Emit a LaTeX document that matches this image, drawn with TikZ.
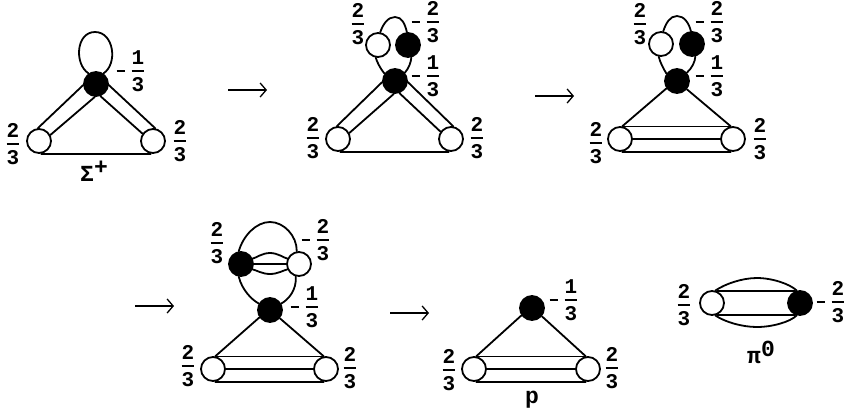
\documentclass[tikz,border=0pt]{standalone}
\usepackage{fontspec}
\setmainfont{Liberation Mono}[BoldFont={Liberation Mono Bold}]
\newcommand{\fr}[2]{\ensuremath{\displaystyle{\hbox{\bfseries\fontsize{21}{21}\selectfont #1}\above1.8pt\hbox{\bfseries\fontsize{21}{21}\selectfont #2}}}}
\newcommand{\mfr}[2]{\rule[1.6pt]{8pt}{2pt}\hspace{6pt}\fr{#1}{#2}}
\usetikzlibrary{arrows.meta}
\tikzset{
 wh/.style={circle,draw,fill=white,line width=1.8pt,minimum size=24pt,inner sep=0pt},
 bk/.style={circle,draw,fill=black,line width=1.8pt,minimum size=24pt,inner sep=0pt},
 ln/.style={line width=1.8pt,line cap=round},
 arr/.style={-{Straight Barb[length=6pt,width=14pt,line width=1.3pt]},line width=1.5pt},
 lb/.style={inner sep=0pt,outer sep=0pt},
 big/.style={inner sep=0pt,outer sep=0pt,font=\bfseries\fontsize{23}{23}\selectfont}
}
\begin{document}
\begin{tikzpicture}[x=1pt,y=1pt]
\useasboundingbox (0,0) rectangle (848,-415);
% --- diagram 1
\node[bk] (a) at (96,-84) {};
\node[wh] (b) at (39,-141) {};
\node[wh] (c) at (153,-141) {};
\coordinate (atop) at (95,-32);
\draw[ln] (a.125) .. controls (74,-64) and (76,-32) .. (atop) .. controls (114,-32) and (118,-64) .. (a.55);
\draw[ln] (a.185) -- (b.95);
\draw[ln] (a.265) -- (b.28);
\draw[ln] (a.-5) -- (c.80);
\draw[ln] (a.-70) -- (c.145);
\draw[ln] (b.-80) -- (c.-100);
\node[lb] (a1) at (131,-71) {\mfr{1}{3}};
\node[lb] (a2) at (13,-144) {\fr{2}{3}};
\node[lb] (a3) at (180,-141) {\fr{2}{3}};
\node[big] (a4) at (94,-171) {Σ\raisebox{7pt}{+}};
\coordinate (r1s) at (228,-90); \coordinate (r1e) at (267,-90);
\draw[arr] (r1s) -- (r1e);
% --- diagram 2
\node[bk] (d) at (395,-81) {};
\node[wh] (e) at (338,-139) {};
\node[wh] (f) at (451,-139) {};
\node[wh] (g) at (378,-45) {};
\node[bk] (h) at (408,-45) {};
\coordinate (dtop) at (395,-17);
\draw[ln] (g.80) .. controls (383,-24) and (388,-17) .. (dtop) .. controls (402,-17) and (405,-24) .. (h.95);
\draw[ln] (g.-100) .. controls (377,-62) and (380,-68) .. (d.145);
\draw[ln] (h.-75) .. controls (411,-62) and (409,-68) .. (d.40);
\draw[ln] (d.185) -- (e.95);
\draw[ln] (d.265) -- (e.28);
\draw[ln] (d.-5) -- (f.80);
\draw[ln] (d.-70) -- (f.145);
\draw[ln] (e.-80) -- (f.-100);
\node[lb] (d1) at (358,-24) {\fr{2}{3}};
\node[lb] (d2) at (426,-22) {\mfr{2}{3}};
\node[lb] (d3) at (426,-76) {\mfr{1}{3}};
\node[lb] (d4) at (313,-138) {\fr{2}{3}};
\node[lb] (d5) at (477,-138) {\fr{2}{3}};
\coordinate (r2s) at (535,-96); \coordinate (r2e) at (574,-96);
\draw[arr] (r2s) -- (r2e);
% --- diagram 3
\node[bk] (i) at (677,-81) {};
\node[wh] (j) at (620,-139) {};
\node[wh] (k) at (733,-139) {};
\node[wh] (l) at (661,-44) {};
\node[bk] (m) at (692,-44) {};
\coordinate (itop) at (677,-16);
\draw[ln] (l.80) .. controls (666,-23) and (670,-16) .. (itop) .. controls (684,-16) and (689,-23) .. (m.95);
\draw[ln] (l.-100) .. controls (660,-62) and (663,-68) .. (i.145);
\draw[ln] (m.-75) .. controls (695,-62) and (692,-68) .. (i.40);
\draw[ln] (i.215) -- (j.80);
\draw[ln] (i.-40) -- (k.100);
\draw[ln] (j.75) -- (k.105);
\draw[ln] (j.0) -- (k.180);
\draw[ln] (j.-80) -- (k.-100);
\node[lb] (i1) at (640,-24) {\fr{2}{3}};
\node[lb] (i2) at (710,-22) {\mfr{2}{3}};
\node[lb] (i3) at (710,-76) {\mfr{1}{3}};
\node[lb] (i4) at (596,-143) {\fr{2}{3}};
\node[lb] (i5) at (760,-139) {\fr{2}{3}};
% --- diagram 4
\node[bk] (n) at (270,-310) {};
\node[wh] (o) at (213,-369) {};
\node[wh] (q) at (326,-369) {};
\node[bk] (s) at (241,-264) {};
\node[wh] (t) at (299,-264) {};
\coordinate (ntop) at (270,-222);
\coordinate (nu) at (270,-253);
\coordinate (nv) at (270,-274);
\draw[ln] (s.100) .. controls (243,-236) and (256,-222) .. (ntop) .. controls (284,-222) and (297,-236) .. (t.100);
\draw[ln] (s.-100) .. controls (242,-290) and (252,-300) .. (n.150);
\draw[ln] (t.-105) .. controls (297,-290) and (288,-300) .. (n.30);
\draw[ln] (s.25) .. controls (256,-258) and (262,-253) .. (nu) .. controls (278,-253) and (284,-258) .. (t.155);
\draw[ln] (s.-25) .. controls (256,-270) and (262,-274) .. (nv) .. controls (278,-274) and (284,-270) .. (t.-155);
\draw[ln] (s.0) -- (t.180);
\draw[ln] (n.215) -- (o.80);
\draw[ln] (n.-40) -- (q.100);
\draw[ln] (o.75) -- (q.105);
\draw[ln] (o.0) -- (q.180);
\draw[ln] (o.-80) -- (q.-100);
\node[lb] (n1) at (217,-243) {\fr{2}{3}};
\node[lb] (n2) at (316,-240) {\mfr{2}{3}};
\node[lb] (n3) at (305,-307) {\mfr{1}{3}};
\node[lb] (n4) at (188,-366) {\fr{2}{3}};
\node[lb] (n5) at (350,-368) {\fr{2}{3}};
\coordinate (r3s) at (135,-306); \coordinate (r3e) at (174,-306);
\draw[arr] (r3s) -- (r3e);
% --- diagram 5
\node[bk] (u) at (532,-308) {};
\node[wh] (v) at (474,-369) {};
\node[wh] (w) at (588,-369) {};
\draw[ln] (u.215) -- (v.80);
\draw[ln] (u.-40) -- (w.100);
\draw[ln] (v.75) -- (w.105);
\draw[ln] (v.0) -- (w.180);
\draw[ln] (v.-80) -- (w.-100);
\node[lb] (u1) at (564,-300) {\mfr{1}{3}};
\node[lb] (u2) at (449,-370) {\fr{2}{3}};
\node[lb] (u3) at (612,-368) {\fr{2}{3}};
\node[big] (u4) at (532,-400) {p};
\coordinate (r4s) at (390,-313); \coordinate (r4e) at (429,-313);
\draw[arr] (r4s) -- (r4e);
% --- pi0
\node[wh] (x) at (712,-303) {};
\node[bk] (y) at (800,-303) {};
\coordinate (xtop) at (757,-278);
\coordinate (xbot) at (757,-327);
\draw[ln] (x.75) .. controls (725,-284) and (742,-278) .. (xtop) .. controls (772,-278) and (790,-284) .. (y.105);
\draw[ln] (x.-75) .. controls (725,-322) and (742,-327) .. (xbot) .. controls (772,-327) and (790,-322) .. (y.-105);
\draw[ln] (x.65) -- (y.115);
\draw[ln] (x.-65) -- (y.-115);
\node[lb] (x1) at (684,-305) {\fr{2}{3}};
\node[lb] (x2) at (831,-302) {\mfr{2}{3}};
\node[big] (x3) at (761,-352) {π\raisebox{7pt}{0}};
\end{tikzpicture}
\end{document}
